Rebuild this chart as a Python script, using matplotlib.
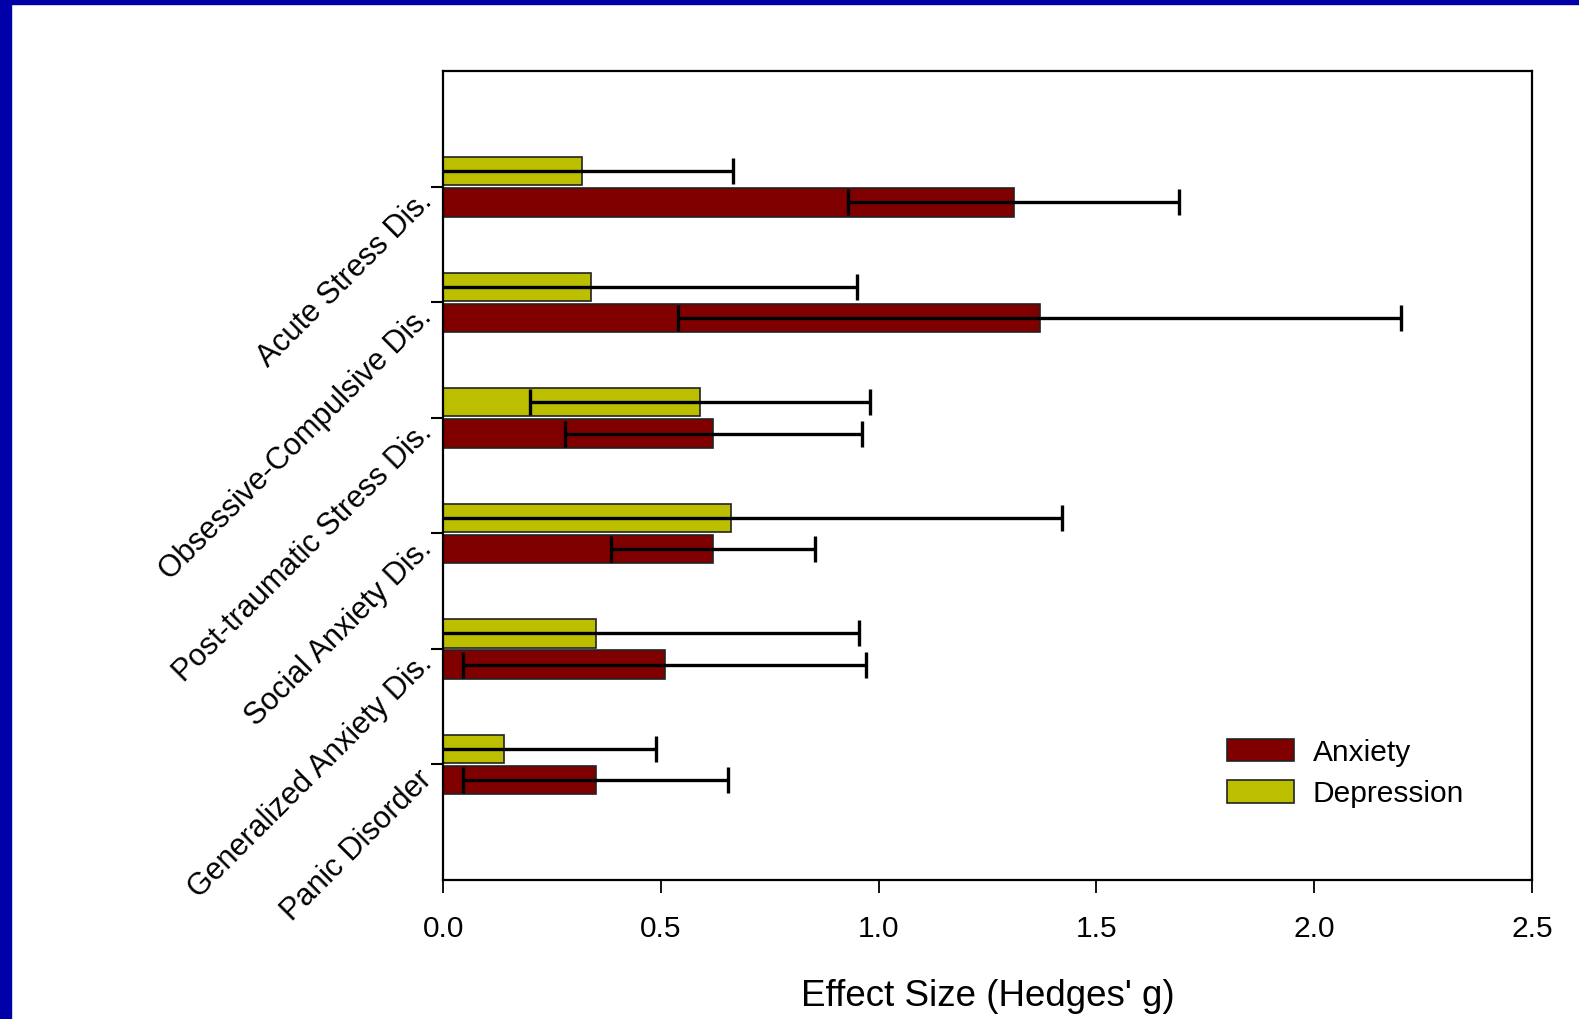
import matplotlib
matplotlib.use("Agg")
import matplotlib.pyplot as plt
from matplotlib.patches import Rectangle
import numpy as np

plt.rcParams['font.family'] = ['Liberation Sans', 'DejaVu Sans']

# categories bottom -> top
disorders = ["Panic Disorder", "Generalized Anxiety Dis.", "Social Anxiety Dis.",
             "Post-traumatic Stress Dis.", "Obsessive-Compulsive Dis.", "Acute Stress Dis."]

anx_g = [0.35, 0.51, 0.62, 0.62, 1.37, 1.31]
anx_lo = [0.045, 0.046, 0.385, 0.28, 0.54, 0.93]
anx_hi = [0.655, 0.97, 0.855, 0.962, 2.20, 1.69]

dep_g = [0.14, 0.35, 0.66, 0.59, 0.34, 0.32]
dep_lo = [-0.05, -0.05, -0.05, 0.20, -0.05, -0.05]
dep_hi = [0.49, 0.955, 1.42, 0.98, 0.95, 0.665]

anx_col = "#800000"
dep_col = "#BBBF00"

fig = plt.figure(figsize=(15.79, 10.19), dpi=100)
ax = fig.add_axes([0.2806, 0.1364, 0.6896, 0.7936])

y = np.arange(len(disorders))
h = 0.245
off = 0.135

anx_err = [np.array(anx_g) - np.array(anx_lo), np.array(anx_hi) - np.array(anx_g)]
dep_err = [np.array(dep_g) - np.array(dep_lo), np.array(dep_hi) - np.array(dep_g)]

ax.barh(y - off, anx_g, height=h, color=anx_col, edgecolor="#222222",
        linewidth=1.2, label="Anxiety", zorder=2)
ax.barh(y + off, dep_g, height=h, color=dep_col, edgecolor="#222222",
        linewidth=1.2, label="Depression", zorder=2)

for yy, g, err in ((y - off, anx_g, anx_err), (y + off, dep_g, dep_err)):
    ax.errorbar(g, yy, xerr=err, fmt="none", ecolor="black", elinewidth=2.4,
                capsize=9.5, capthick=2.4, zorder=3)

ax.set_xlim(0, 2.5)
ax.set_ylim(-1, 6)
ax.set_xticks([0.0, 0.5, 1.0, 1.5, 2.0, 2.5])
ax.set_xticklabels(["0.0", "0.5", "1.0", "1.5", "2.0", "2.5"], fontsize=21.5)
ax.set_yticks(y)
ax.set_yticklabels(disorders, fontsize=22, rotation=45, ha="right", va="top",
                   rotation_mode="anchor")
ax.tick_params(axis="x", length=9, width=1.3, pad=16, direction="out")
ax.tick_params(axis="y", length=9, width=1.5, pad=10, direction="out")
for s in ax.spines.values():
    s.set_linewidth(1.6)

ax.set_xlabel("Effect Size (Hedges' g)", fontsize=26.5, labelpad=26)

ax.legend(loc="center left", bbox_to_anchor=(0.72, 0.132), frameon=False,
          fontsize=21.5, borderpad=0, borderaxespad=0, handlelength=2.25,
          handleheight=0.78, handletextpad=0.62, labelspacing=0.45)

# blue slide frame on the top and left
fig.patches.append(Rectangle((0, 1 - 4 / 1019), 1, 4 / 1019, transform=fig.transFigure,
                             color="#0000A8", zorder=10))
fig.patches.append(Rectangle((0, 0), 11 / 1579, 1, transform=fig.transFigure,
                             color="#0000A8", zorder=10))

fig.savefig("out.png", dpi=100)
